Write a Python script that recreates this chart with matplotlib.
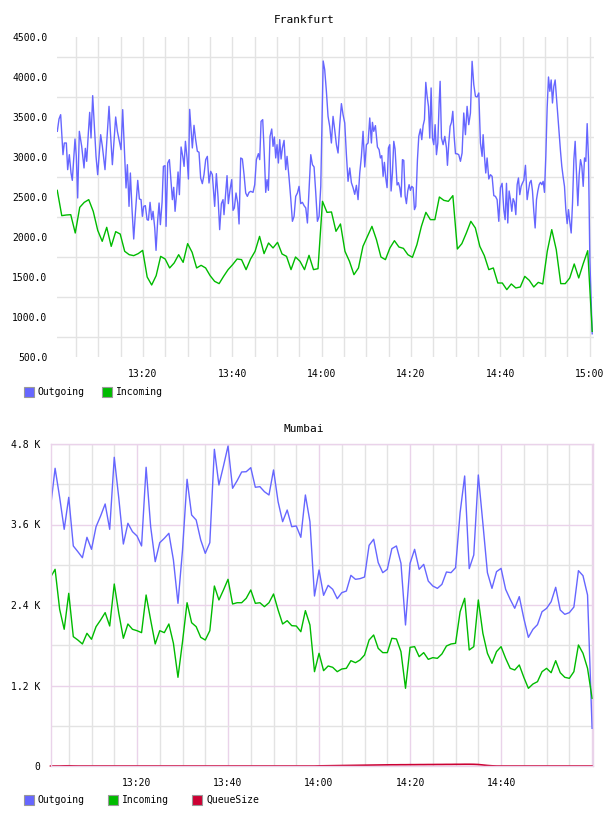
import numpy as np
import matplotlib
matplotlib.use('Agg')
import matplotlib.pyplot as plt
from matplotlib.patches import Rectangle

plt.rcParams['font.family'] = ['DejaVu Sans Mono']

# ---- Frankfurt (minutes after 13:00) ----
fra_out_t = [0.81, 1.19, 1.56, 2.08, 2.38, 2.83, 3.13, 3.50, 3.88, 4.17, 4.77, 5.07, 5.37, 5.74,
             6.27, 6.79, 7.09, 7.39, 7.76, 8.06, 8.36, 8.73, 9.10, 9.48, 9.85, 10.52, 10.90, 11.49,
             11.94, 12.39, 12.69, 13.14, 13.88, 14.26, 14.63, 15.08, 15.45, 15.90, 16.20, 16.50,
             16.87, 17.17, 17.55, 17.92, 18.29, 18.82, 19.19, 19.56, 19.86, 20.16, 20.53, 20.91,
             21.21, 21.58, 21.95, 22.25, 22.63, 22.92, 23.30, 23.60, 23.89, 24.27, 24.57, 24.94,
             25.16, 25.54, 25.91, 26.21, 26.58, 26.88, 27.18, 27.56, 27.85, 28.15, 28.53, 28.90,
             29.20, 29.50, 29.87, 30.17, 30.45, 30.67, 31.05, 31.42, 31.79, 32.17, 32.54, 32.91,
             33.29, 33.66, 34.04, 34.41, 34.78, 35.16, 35.53, 36.05, 36.43, 36.80, 37.17, 37.55,
             37.92, 38.14, 38.52, 38.82, 39.11, 39.49, 39.86, 40.16, 40.46, 40.83, 41.21, 41.51,
             41.88, 42.25, 42.63, 43.00, 43.37, 43.75, 44.12, 44.64, 45.02, 45.39, 45.84, 46.14,
             46.44, 46.81, 47.18, 47.48, 47.78, 48.08, 48.45, 48.83, 49.12, 49.42, 49.72, 50.02,
             50.32, 50.62, 50.92, 51.22, 51.59, 51.96, 52.26, 52.71, 53.08, 53.46, 53.83, 54.20,
             54.58, 54.95, 55.32, 55.70, 56.07, 56.45, 56.82, 57.19, 57.57, 57.94, 58.31, 58.69,
             59.06, 59.43, 59.81, 60.35, 60.69, 61.07, 61.44, 61.81, 62.19, 62.56, 62.93, 63.31,
             63.68, 64.06, 64.43, 64.80, 65.18, 65.55, 65.92, 66.30, 66.67, 67.04, 67.42, 67.79,
             68.16, 68.54, 68.91, 69.28, 69.66, 70.03, 70.40, 70.78, 71.15, 71.38, 71.67, 72.05,
             72.50, 72.87, 73.17, 73.47, 73.77, 74.06, 74.36, 74.66, 74.96, 75.26, 75.56, 75.86,
             76.16, 76.45, 76.90, 77.20, 77.50, 77.80, 78.10, 78.40, 78.70, 78.99, 79.29, 79.59,
             79.89, 80.19, 80.49, 80.79, 81.08, 81.46, 81.76, 82.13, 82.43, 82.73, 83.03, 83.33,
             83.63, 83.93, 84.22, 84.52, 84.82, 85.12, 85.42, 85.72, 86.02, 86.32, 86.54, 86.84,
             87.21, 87.59, 87.96, 88.18, 88.48, 88.78, 89.08, 89.38, 89.68, 89.98, 90.34, 90.71,
             91.09, 91.46, 91.83, 92.21, 92.58, 92.95, 93.33, 93.70, 94.08, 94.45, 94.82, 95.20,
             95.57, 95.94, 96.17, 96.47, 96.76, 97.06, 97.44, 97.81, 98.18, 98.56, 98.93, 99.30,
             99.68, 100.05, 100.42, 100.80, 101.10, 101.40, 101.69, 101.99, 102.29, 102.59, 102.89,
             103.19, 103.49, 103.79, 104.08, 104.38, 104.68, 104.98, 105.28, 105.65, 106.03, 106.33,
             106.62, 106.92, 107.22, 107.52, 107.82, 108.12, 108.42, 108.72, 109.02, 109.31, 109.61,
             109.91, 110.21, 110.51, 110.81, 111.11, 111.41, 111.70, 112.00, 112.30, 112.60, 112.90,
             113.20, 113.50, 113.79, 114.09, 114.39, 114.69, 114.99, 115.29, 115.59, 115.89, 116.19,
             116.49, 116.78, 117.08, 117.38, 117.68, 117.98, 118.28, 118.58, 118.88, 119.17, 119.47,
             119.77, 120.07, 120.60]
fra_out = [3321, 3475, 3529, 3029, 3175, 3175, 2842, 3029, 2800, 2708, 3225, 3008, 2488, 3321,
           3133, 2863, 3108, 2946, 3300, 3558, 3238, 3767, 3383, 3008, 2779, 3279, 3133, 2842,
           3233, 3633, 3321, 2904, 3500, 3321, 3217, 3092, 3592, 3008, 2613, 2904,
           2383, 2800, 2338, 1975, 2296, 2708, 2475, 2467, 2258, 2383, 2392, 2217,
           2210, 2433, 2217, 2321, 2113, 1833, 2217, 2425, 2154, 2433, 2883, 2892,
           2133, 2925, 2967, 2738, 2467, 2621, 2321, 2571, 2813, 2529, 3125, 3008,
           2883, 3196, 2988, 2725, 3595, 3425, 3113, 3396, 3217, 3071, 3060, 2738,
           2667, 2779, 2967, 3008, 2675, 2821, 2779, 2383, 2792, 2500, 2092, 2417,
           2467, 2279, 2550, 2767, 2417, 2592, 2717, 2333, 2363, 2550, 2425, 2163,
           2988, 2975, 2779, 2550, 2508, 2558, 2571, 2558, 2654, 2967, 3042, 2967,
           3446, 3467, 3008, 2558, 2717, 2583, 3258, 3350, 3133, 3250, 2988, 3154,
           2925, 3217, 2975, 3113, 3208, 2842, 3008, 2738, 2488, 2196, 2258, 2508,
           2550, 2633, 2417, 2433, 2392, 2363, 2175, 2592, 3029, 2904, 2875, 2550,
           2196, 2258, 2633, 4200, 4092, 3821, 3508, 3383, 3175, 3508, 3342, 3154,
           3050, 3404, 3667, 3529, 3425, 3029, 2696, 2863, 2679, 2617, 2533, 2646,
           2467, 2800, 3008, 3321, 2875, 3154, 3175, 3488, 3175, 3433, 3321, 3392,
           3125, 3092, 2988, 3017, 2758, 2933, 2738, 2617, 3113, 3154, 2575, 2800,
           3196, 3100, 2650, 2679, 2617, 2500, 2967, 2958, 2517, 2417, 2575, 2654,
           2583, 2633, 2617, 2342, 2383, 2967, 3258, 3350, 3217, 3392, 3467, 3933,
           3758, 3633, 3237, 3863, 3237, 3154, 3404, 3029, 3175, 3675, 3946, 3237,
           3154, 3258, 3113, 2896, 3175, 3383, 3433, 3571, 3258, 3042, 3040, 3029,
           2946, 3050, 3550, 3279, 3633, 3404, 3550, 4196, 3904, 3758, 3750, 3800,
           3175, 3008, 3279, 3008, 2800, 2988, 2725, 2779, 2758, 2517, 2508, 2467,
           2196, 2617, 2671, 2342, 2217, 2671, 2175, 2575, 2467, 2321, 2479,
           2437, 2279, 2654, 2738, 2529, 2633, 2675, 2708, 2896, 2467, 2583,
           2679, 2708, 2575, 2321, 2113, 2467, 2575, 2654, 2683, 2654, 2696,
           2558, 3008, 3613, 4000, 3821, 3963, 3675, 3883, 3963, 3738, 3529,
           3300, 3071, 2883, 2750, 2633, 2342, 2167, 2342, 2183, 2050, 2425,
           2967, 3196, 2800, 2392, 2779, 2967, 2883, 2633, 2988, 2946, 3417,
           2967, 1717, 790]
fra_in = [2583, 2267, 2275, 2279, 2050, 2371, 2433, 2467, 2321, 2083,
          1946, 2121, 1883, 2067, 2037, 1821, 1779, 1767, 1792, 1833,
          1500, 1400, 1517, 1758, 1725, 1613, 1675, 1779, 1683, 1917,
          1808, 1613, 1646, 1613, 1517, 1446, 1417, 1508, 1592, 1654,
          1725, 1717, 1592, 1725, 1821, 2008, 1792, 1925, 1863, 1933,
          1788, 1758, 1592, 1750, 1696, 1592, 1771, 1592, 1604, 2446,
          2308, 2313, 2071, 2163, 1821, 1696, 1529, 1613, 1883, 2008,
          2133, 1967, 1750, 1717, 1863, 1954, 1875, 1858, 1779, 1746,
          1904, 2133, 2308, 2217, 2217, 2500, 2458, 2446, 2517, 1850,
          1917, 2050, 2196, 2113, 1883, 1767, 1592, 1613, 1425, 1425,
          1342, 1413, 1363, 1375, 1508, 1458, 1375, 1433, 1413, 1821,
          2092, 1842, 1417, 1417, 1488, 1663, 1488, 1667, 1829, 821]
fra_in_t = np.linspace(0.8, 120.6, len(fra_in))

# ---- Mumbai (one sample per minute, 13:01 .. 15:00) ----
mum_out = [3856, 4438, 4005, 3528, 4005, 3280, 3195, 3105, 3409, 3230,
           3567, 3727, 3906, 3528, 4602, 3991, 3309, 3618, 3493, 3429,
           3280, 4453, 3567, 3046, 3329, 3394, 3469, 3071, 2425, 3220,
           4274, 3742, 3667, 3369, 3170, 3329, 4721, 4189, 4472, 4770,
           4140, 4253, 4383, 4387, 4447, 4155, 4164, 4089, 4040, 4413,
           3940, 3642, 3816, 3567, 3578, 3409, 4040, 3642, 2534, 2922,
           2544, 2693, 2634, 2494, 2584, 2608, 2842, 2783, 2793, 2817,
           3290, 3380, 3032, 2882, 2932, 3240, 3280, 3022, 2102, 3022,
           3230, 2932, 3006, 2757, 2683, 2648, 2708, 2892, 2882, 2956,
           3777, 4323, 2942, 3146, 4338, 3618, 2882, 2648, 2897, 2946,
           2634, 2485, 2351, 2525, 2200, 1918, 2037, 2107, 2300, 2350,
           2449, 2664, 2325, 2261, 2286, 2370, 2912, 2837, 2549, 562]
mum_in = [2813, 2932, 2336, 2038, 2574, 1928, 1878, 1819, 1978, 1889,
          2077, 2176, 2286, 2087, 2713, 2276, 1904, 2117, 2038, 2017,
          1988, 2549, 2176, 1819, 2017, 1988, 2117, 1829, 1322, 1853,
          2434, 2136, 2077, 1918, 1878, 2017, 2683, 2475, 2624, 2783,
          2415, 2434, 2434, 2500, 2624, 2425, 2434, 2375, 2434, 2564,
          2326, 2117, 2166, 2092, 2087, 2002, 2316, 2102, 1406, 1680,
          1421, 1491, 1471, 1406, 1446, 1456, 1570, 1540, 1580, 1655,
          1878, 1953, 1754, 1690, 1690, 1904, 1894, 1705, 1158, 1769,
          1779, 1630, 1690, 1590, 1615, 1605, 1670, 1789, 1819, 1829,
          2300, 2500, 1729, 1779, 2475, 1978, 1680, 1531, 1705, 1779,
          1605, 1456, 1431, 1506, 1322, 1158, 1222, 1257, 1406, 1456,
          1391, 1570, 1391, 1322, 1307, 1406, 1804, 1680, 1456, 1009]
mum_queue = [0, 0, 0, 2, 3, 1, 0, 0, 0, 0,
             0, 0, 0, 0, 0, 0, 0, 0, 0, 0,
             0, 0, 0, 0, 0, 0, 0, 0, 0, 0,
             0, 0, 0, 0, 0, 0, 0, 0, 0, 0,
             0, 0, 0, 0, 0, 0, 0, 0, 0, 0,
             0, 0, 0, 0, 0, 0, 0, 0, 0, 2,
             3, 4, 5, 6, 7, 8, 9, 10, 11, 12,
             13, 14, 15, 16, 17, 18, 18, 19, 19, 20,
             20, 21, 21, 22, 22, 23, 23, 24, 24, 25,
             25, 26, 26, 25, 22, 15, 8, 3, 0, 0,
             0, 0, 0, 0, 0, 0, 0, 0, 0, 0,
             0, 0, 0, 0, 0, 0, 0, 0, 0, 0]
mum_t = np.arange(1, len(mum_out) + 1)

time_ticks = [20, 40, 60, 80, 100, 120]
time_labels = ['13:20', '13:40', '14:00', '14:20', '14:40', '15:00']

BLUE = '#6666ff'
GREEN = '#00bb00'
RED = '#cc0033'
GRID = '#e3e3e3'
PINK = '#ead3ea'

W, H = 608, 816
fig = plt.figure(figsize=(W / 100, H / 100), dpi=100)


def px_axes(left, top, right, bottom):
    return fig.add_axes([left / W, 1 - bottom / H, (right - left) / W, (bottom - top) / H])


def legend(y, items):
    for x, label, color in items:
        fig.patches.append(Rectangle((x / W, 1 - (y + 5) / H), 10 / W, 10 / H,
                                     transform=fig.transFigure, facecolor=color,
                                     edgecolor='#999999', lw=0.8))
        fig.text((x + 14) / W, 1 - y / H, label, fontsize=7, va='center', ha='left')


# Frankfurt
ax1 = px_axes(57, 37, 594, 357)
ax1.set_xlim(0.74, 121.0)
ax1.set_ylim(500, 4500)
ax1.set_axisbelow(True)
ax1.set_yticks(np.arange(500, 4501, 500))
ax1.set_yticklabels(['%.1f' % v for v in np.arange(500, 4501, 500)])
ax1.set_yticks(np.arange(750, 4500, 500), minor=True)
ax1.set_xticks(time_ticks)
ax1.set_xticklabels(time_labels)
ax1.set_xticks(np.arange(5, 121, 5), minor=True)
ax1.grid(which='minor', color=GRID, lw=1.0)
ax1.grid(which='major', axis='x', color=GRID, lw=1.0)
ax1.tick_params(which='both', length=0, labelsize=7)
ax1.tick_params(axis='y', pad=7)
ax1.tick_params(axis='x', pad=8.5)
for s in ax1.spines.values():
    s.set_visible(False)
ax1.plot(fra_out_t, fra_out, color=BLUE, lw=1.0)
ax1.plot(fra_in_t, fra_in, color=GREEN, lw=1.0)
fig.text(0.5, 1 - 20 / H, 'Frankfurt', ha='center', va='center', fontsize=8)
legend(392, [(24, 'Outgoing', BLUE), (102, 'Incoming', GREEN)])

# Mumbai
ax2 = px_axes(51, 444, 593, 766)
ax2.set_xlim(1.1, 120.2)
ax2.set_ylim(0, 4800)
ax2.set_axisbelow(True)
ax2.set_yticks([0, 1200, 2400, 3600, 4800])
ax2.set_yticklabels(['0', '1.2 K', '2.4 K', '3.6 K', '4.8 K'])
ax2.set_yticks([600, 1800, 3000, 4200], minor=True)
ax2.set_xticks(time_ticks)
ax2.set_xticklabels(time_labels[:-1] + [''])
ax2.set_xticks([t for t in range(5, 121, 5) if t % 20], minor=True)
ax2.grid(which='minor', color=GRID, lw=1.0)
ax2.grid(which='major', color=PINK, lw=1.0)
ax2.tick_params(which='both', length=0, labelsize=7)
ax2.tick_params(axis='y', pad=8)
ax2.tick_params(axis='x', pad=8.5)
for s in ax2.spines.values():
    s.set_color(PINK)
    s.set_linewidth(1.0)
ax2.plot(mum_t, mum_out, color=BLUE, lw=1.0)
ax2.plot(mum_t, mum_in, color=GREEN, lw=1.0)
ax2.plot(mum_t, mum_queue, color=RED, lw=1.2, clip_on=False)
fig.text(0.5, 1 - 429 / H, 'Mumbai', ha='center', va='center', fontsize=8)
legend(800, [(24, 'Outgoing', BLUE), (108, 'Incoming', GREEN), (192, 'QueueSize', RED)])

fig.savefig('out.png', dpi=100)
